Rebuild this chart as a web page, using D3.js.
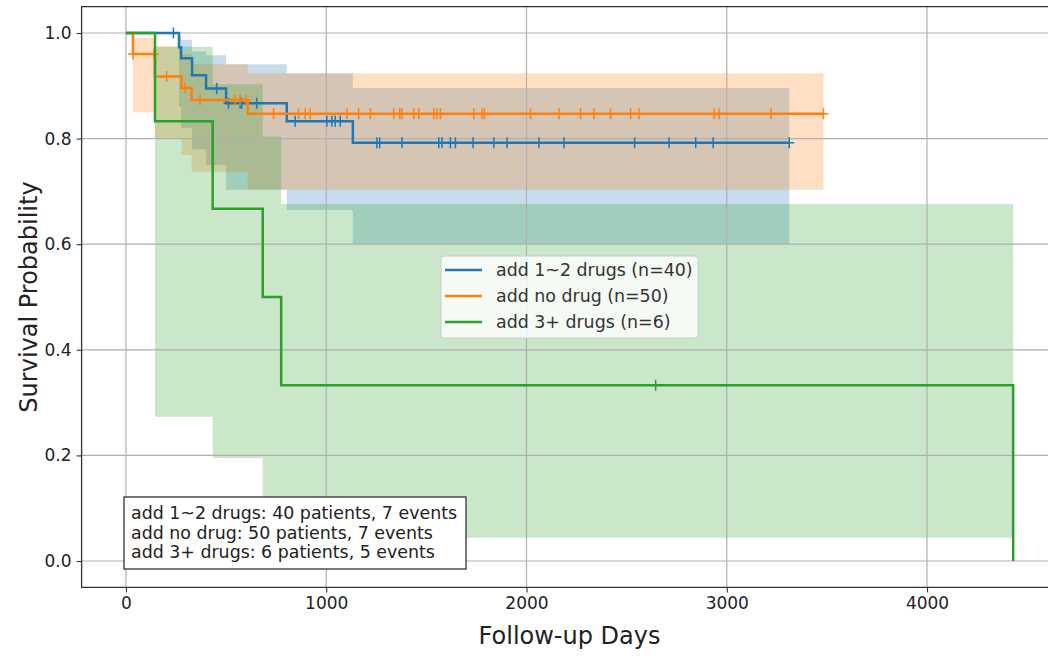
<!DOCTYPE html>
<html>
<head>
<meta charset="utf-8">
<script src="https://cdn.jsdelivr.net/npm/d3@7"></script>
<style>
  body { margin: 0; background: #fff; }
  text { font-family: "DejaVu Sans", sans-serif; }
</style>
</head>
<body>
<svg id="chart"></svg>
<script>
// group names, legend and summary texts
const groupNames = ["add 1~2 drugs", "add no drug", "add 3+ drugs"];
const groupN = [40, 50, 6];
const groupEvents = [7, 7, 5];
const colors = ["#1f77b4", "#ff7f0e", "#2ca02c"];

// add 1~2 drugs
const blueTimes = [0, 265, 275, 330, 400, 500, 803, 1133, 3312];
const blueSurv  = [1.0, 0.973, 0.952, 0.920, 0.895, 0.867, 0.833, 0.792, 0.792];
const blueUpper = [1.0, 0.995, 0.987, 0.965, 0.958, 0.941, 0.924, 0.896, 0.896];
const blueLower = [1.0, 0.86, 0.82, 0.78, 0.75, 0.703, 0.665, 0.600, 0.600];
const blueCensor = [237, 453, 512, 570, 578, 653, 845, 1003, 1028, 1045, 1070, 1253, 1267, 1378,
    1562, 1578, 1620, 1645, 1733, 1837, 1903, 2062, 2187, 2540, 2712, 2845, 2932, 3312];

// add no drug
const orangeTimes = [0, 35, 145, 278, 328, 608, 3483];
const orangeSurv  = [1.0, 0.960, 0.9175, 0.896, 0.873, 0.847, 0.847];
const orangeUpper = [1.0, 0.991, 0.975, 0.960, 0.941, 0.924, 0.924];
const orangeLower = [1.0, 0.850, 0.800, 0.769, 0.737, 0.703, 0.703];
const orangeCensor = [35, 140, 203, 295, 370, 545, 570, 600, 737, 862, 895, 920, 1103, 1162, 1220,
    1337, 1367, 1378, 1437, 1462, 1537, 1553, 1570, 1737, 1778, 1790, 2020, 2162, 2270, 2337,
    2420, 2520, 2562, 2937, 2962, 3220, 3483];

// add 3+ drugs
const greenTimes = [0, 145, 433, 683, 775, 4430];
const greenSurv  = [1.0, 0.833, 0.667, 0.500, 0.333, 0.0];
const greenUpper = [1.0, 0.974, 0.903, 0.804, 0.676, 0.0];
const greenLower = [1.0, 0.273, 0.195, 0.09, 0.044, 0.0];
const greenCensor = [2645];

const xTicks = [0, 1000, 2000, 3000, 4000];
const yTicks = [0.0, 0.2, 0.4, 0.6, 0.8, 1.0];

const svgWidth = 1048, svgHeight = 658;

const chart = d3.select("#chart")
    .attr("width", svgWidth)
    .attr("height", svgHeight);

var xScale = d3.scaleLinear().domain([-221.5, 4651.5]).range([81.6, 1057.5]);
var yScale = d3.scaleLinear().domain([-0.05, 1.05]).range([587.4, 6.6]);

const groups = [
    {times: blueTimes, surv: blueSurv, upper: blueUpper, lower: blueLower, censor: blueCensor},
    {times: orangeTimes, surv: orangeSurv, upper: orangeUpper, lower: orangeLower, censor: orangeCensor},
    {times: greenTimes, surv: greenSurv, upper: greenUpper, lower: greenLower, censor: greenCensor}
];

const plot = chart.append("g");

// confidence bands (step post), drawn first
var band = d3.area()
    .x(d => xScale(d.t))
    .y0(d => yScale(d.lo))
    .y1(d => yScale(d.hi))
    .curve(d3.curveStepAfter);

groups.forEach((g, gi) => {
    var pts = [];
    for (var i = 0; i < g.times.length - 1; i++) {
        pts.push({t: g.times[i], lo: g.lower[i], hi: g.upper[i]});
    }
    var n = g.times.length - 1;
    pts.push({t: g.times[n], lo: g.lower[n - 1], hi: g.upper[n - 1]});
    plot.append("path")
        .datum(pts)
        .attr("d", band)
        .attr("fill", colors[gi])
        .attr("fill-opacity", 0.25)
        .attr("stroke", "none");
});

// grid
plot.append("g").selectAll("line.vx")
    .data(xTicks).enter().append("line")
    .attr("x1", d => xScale(d)).attr("x2", d => xScale(d))
    .attr("y1", yScale(1.05)).attr("y2", yScale(-0.05))
    .attr("stroke", "#b0b0b0").attr("stroke-width", 1.2);
plot.append("g").selectAll("line.hy")
    .data(yTicks).enter().append("line")
    .attr("x1", xScale(-221.5)).attr("x2", svgWidth)
    .attr("y1", d => yScale(d)).attr("y2", d => yScale(d))
    .attr("stroke", "#b0b0b0").attr("stroke-width", 1.2);

// survival curves and censor marks
var valueline = d3.line()
    .x(d => xScale(d.t))
    .y(d => yScale(d.s))
    .curve(d3.curveStepAfter);

function survAt(g, t) {
    var s = g.surv[0];
    for (var i = 0; i < g.times.length; i++) {
        if (g.times[i] <= t) s = g.surv[i];
    }
    return s;
}

groups.forEach((g, gi) => {
    plot.append("path")
        .datum(g.times.map((t, i) => ({t: t, s: g.surv[i]})))
        .attr("d", valueline)
        .attr("fill", "none")
        .attr("stroke", colors[gi])
        .attr("stroke-width", 2.5);

    plot.append("g").selectAll("path")
        .data(g.censor).enter().append("path")
        .attr("transform", d => "translate(" + xScale(d) + "," + yScale(survAt(g, d)) + ")")
        .attr("d", "M-5,0H5M0,-5.5V5.5")
        .attr("stroke", colors[gi])
        .attr("stroke-width", 1.5);
});

// axes
var xAxis = d3.axisBottom(xScale).tickValues(xTicks).tickSize(5).tickPadding(5).tickFormat(d3.format("d"));
var yAxis = d3.axisLeft(yScale).tickValues(yTicks).tickSize(5).tickPadding(5).tickFormat(d3.format(".1f"));

var gx = chart.append("g").attr("transform", "translate(0," + yScale(-0.05) + ")").call(xAxis);
var gy = chart.append("g").attr("transform", "translate(" + xScale(-221.5) + ",0)").call(yAxis);
[gx, gy].forEach(a => {
    a.select(".domain").remove();
    a.selectAll(".tick line").attr("stroke", "#333").attr("stroke-width", 1.1);
    a.selectAll(".tick text").attr("fill", "#222").style("font-size", "17px");
});

// frame (right side is outside the picture)
chart.append("path")
    .attr("d", "M" + svgWidth + "," + yScale(1.05) + "H" + xScale(-221.5) + "V" + yScale(-0.05) + "H" + svgWidth)
    .attr("fill", "none")
    .attr("stroke", "#333")
    .attr("stroke-width", 1.3);

chart.append("text")
    .attr("x", (xScale(-221.5) + xScale(4651.5)) / 2)
    .attr("y", 636)
    .attr("dominant-baseline", "central")
    .attr("text-anchor", "middle")
    .attr("fill", "#222")
    .style("font-size", "24px")
    .text("Follow-up Days");

chart.append("text")
    .attr("transform", "translate(29," + yScale(0.5) + ") rotate(-90)")
    .attr("dominant-baseline", "central")
    .attr("text-anchor", "middle")
    .attr("fill", "#222")
    .style("font-size", "24px")
    .text("Survival Probability");

// legend
var legend = chart.append("g").attr("transform", "translate(441,256)");
legend.append("rect")
    .attr("width", 257).attr("height", 82).attr("rx", 3)
    .attr("fill", "#fff").attr("fill-opacity", 0.8)
    .attr("stroke", "#cccccc").attr("stroke-width", 1);
groupNames.forEach((name, i) => {
    var ly = 14 + i * 26;
    legend.append("line")
        .attr("x1", 4).attr("x2", 41).attr("y1", ly).attr("y2", ly)
        .attr("stroke", colors[i]).attr("stroke-width", 2.5);
    legend.append("text")
        .attr("x", 55).attr("y", ly)
        .attr("dominant-baseline", "central")
        .attr("fill", "#333")
        .style("font-size", "17.4px")
        .text(name + " (n=" + groupN[i] + ")");
});

// summary box
var box = chart.append("g").attr("transform", "translate(124,497)");
box.append("rect")
    .attr("width", 342).attr("height", 72)
    .attr("fill", "#fff")
    .attr("stroke", "#333").attr("stroke-width", 1.3);
groupNames.forEach((name, i) => {
    box.append("text")
        .attr("x", 7).attr("y", 16 + i * 19.5)
        .attr("dominant-baseline", "central")
        .attr("fill", "#222")
        .style("font-size", "17.4px")
        .text(name + ": " + groupN[i] + " patients, " + groupEvents[i] + " events");
});
</script>
</body>
</html>
